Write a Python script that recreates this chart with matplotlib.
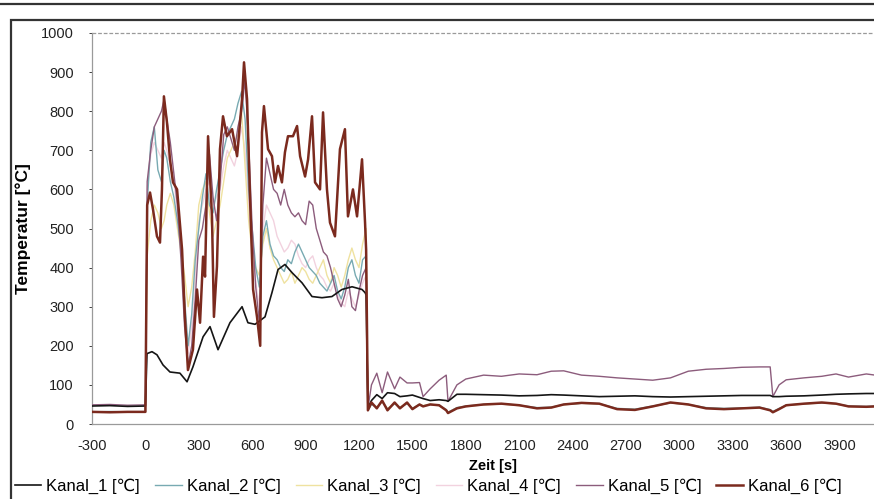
import matplotlib
matplotlib.use("Agg")
import matplotlib.pyplot as plt
from matplotlib.patches import Rectangle
from matplotlib.lines import Line2D

plt.rcParams['font.family'] = ['Liberation Sans', 'DejaVu Sans']
plt.rcParams['axes.unicode_minus'] = False

# ---------------- data ----------------
labels = ["Kanal_1 [℃]", "Kanal_2 [℃]", "Kanal_3 [℃]",
          "Kanal_4 [℃]", "Kanal_5 [℃]", "Kanal_6 [℃]"]

x_ticks = [-300, 0, 300, 600, 900, 1200, 1500, 1800, 2100, 2400, 2700, 3000, 3300, 3600, 3900]
y_ticks = [0, 100, 200, 300, 400, 500, 600, 700, 800, 900, 1000]

t_pre = [-300, -200, -100, 0]

t_fire = [10, 30, 50, 70, 90, 105, 120, 140, 160, 180, 200, 220, 240, 260, 280, 300,
          320, 340, 360, 380, 400, 420, 440, 460, 480, 500, 520, 540, 560, 580, 600,
          620, 640, 660, 680, 700, 720, 740, 760, 780, 800, 820, 840, 860, 880, 900,
          920, 940, 960, 980, 1000, 1020, 1040, 1060, 1080, 1100, 1120, 1140, 1160,
          1180, 1200, 1220, 1240]

t_cool = [1250, 1270, 1300, 1330, 1360, 1400, 1430, 1470, 1500, 1540, 1560, 1600, 1650,
          1690, 1700, 1750, 1800, 1900, 2000, 2100, 2200, 2280, 2350, 2450, 2550, 2650,
          2750, 2850, 2950, 3050, 3150, 3250, 3350, 3450, 3510, 3525, 3560, 3600, 3700,
          3800, 3880, 3950, 4050, 4100]

# Kanal_1 (own fire timeline)
k1_pre = [46, 47, 45, 46]
k1_fire_t = [9, 37, 65, 99, 138, 194, 234, 267, 324, 363, 408, 475, 543, 576, 616, 672,
             711, 745, 784, 824, 880, 936, 992, 1048, 1104, 1161, 1217, 1234, 1240]
k1_fire = [180, 185, 177, 151, 133, 130, 108, 146, 223, 249, 190, 259, 300, 259, 255, 274,
           336, 395, 408, 387, 361, 326, 323, 326, 344, 351, 344, 336, 330]
k1_cool = [40, 60, 75, 65, 80, 78, 70, 72, 74, 68, 65, 60, 62, 60, 58, 76, 76, 75, 74, 72,
           73, 75, 74, 72, 70, 71, 72, 70, 69, 70, 71, 72, 73, 73, 73, 70, 70, 71, 72, 74,
           76, 77, 78, 78]

# Kanal_2
k2_pre = [31, 32, 31, 31]
k2_fire = [560, 720, 760, 650, 620, 700, 680, 620, 580, 520, 450, 320, 200, 280, 420, 500,
           580, 640, 560, 540, 600, 650, 700, 740, 760, 780, 820, 850, 780, 600, 500, 400,
           350, 480, 520, 460, 430, 420, 400, 390, 420, 410, 440, 460, 440, 420, 400, 390,
           380, 360, 350, 340, 360, 380, 340, 320, 350, 400, 420, 380, 360, 420, 430]
k2_cool = [35, 50, 42, 58, 38, 52, 42, 52, 40, 50, 46, 50, 48, 37, 30, 42, 46, 50, 52, 48,
           42, 43, 50, 53, 52, 40, 38, 46, 54, 50, 42, 40, 41, 43, 37, 32, 40, 48, 52, 54,
           52, 46, 45, 46]

# Kanal_3
k3_pre = [30, 31, 30, 30]
k3_fire = [430, 520, 560, 540, 500, 520, 560, 590, 560, 500, 440, 380, 300, 350, 440, 560,
           600, 620, 540, 480, 520, 560, 620, 680, 700, 720, 740, 800, 660, 520, 440, 400,
           380, 460, 500, 450, 420, 400, 380, 360, 370, 390, 360, 380, 400, 390, 370, 360,
           380, 400, 420, 380, 360, 400, 380, 350, 380, 420, 450, 420, 400, 460, 500]
k3_cool = [36, 52, 44, 56, 40, 53, 43, 54, 40, 50, 47, 51, 47, 36, 30, 41, 45, 49, 51, 47,
           41, 42, 49, 53, 51, 39, 37, 45, 54, 49, 41, 39, 40, 42, 36, 31, 39, 47, 51, 54,
           51, 45, 44, 45]

# Kanal_4
k4_pre = [30, 30, 31, 30]
k4_fire = [600, 690, 720, 700, 680, 720, 700, 660, 620, 540, 460, 300, 180, 250, 380, 520,
           560, 600, 620, 560, 580, 600, 660, 700, 680, 660, 700, 760, 700, 560, 440, 360,
           300, 500, 560, 540, 520, 480, 460, 440, 450, 470, 460, 430, 410, 400, 420, 430,
           400, 380, 370, 350, 340, 360, 330, 310, 300, 340, 320, 300, 330, 360, 380]
k4_cool = [34, 54, 41, 57, 37, 54, 41, 53, 39, 49, 45, 49, 47, 35, 29, 40, 44, 49, 51, 47,
           40, 41, 49, 53, 51, 38, 36, 44, 54, 49, 40, 38, 40, 42, 35, 30, 38, 47, 51, 54,
           51, 45, 43, 44]

# Kanal_5
k5_pre = [49, 50, 48, 49]
k5_fire = [620, 700, 760, 780, 800, 830, 780, 720, 640, 560, 420, 250, 150, 200, 320, 470,
           500, 560, 690, 580, 520, 620, 740, 760, 730, 700, 760, 800, 880, 720, 500, 350,
           260, 560, 680, 640, 600, 590, 560, 600, 560, 540, 530, 540, 520, 510, 570, 560,
           500, 470, 440, 430, 400, 360, 320, 300, 330, 370, 300, 290, 340, 380, 400]
k5_cool = [40, 100, 130, 80, 133, 90, 120, 105, 105, 106, 70, 90, 112, 125, 58, 100, 115,
           125, 122, 128, 126, 135, 136, 125, 122, 118, 115, 112, 118, 135, 140, 142, 145,
           146, 146, 70, 100, 113, 118, 122, 128, 120, 128, 125]

# Kanal_6 (own fire timeline)
k6_pre = [31, 30, 31, 31]
k6_fire_t = [10, 26, 43, 65, 82, 93, 104, 121, 138, 155, 178, 206, 222, 239, 267, 290, 307,
             324, 335, 352, 374, 385, 402, 419, 436, 458, 487, 515, 543, 554, 571, 588, 605,
             627, 645, 655, 666, 689, 711, 728, 745, 767, 784, 801, 829, 852, 869, 897,
             914, 936, 953, 981, 998, 1020, 1037, 1065, 1093, 1121, 1138, 1166, 1189, 1217,
             1234, 1240]
k6_fire = [560, 592, 548, 480, 464, 600, 838, 772, 677, 618, 600, 446, 274, 138, 190, 344,
           259, 428, 377, 736, 531, 274, 403, 703, 787, 736, 754, 685, 831, 925, 831, 574,
           344, 274, 200, 746, 813, 703, 685, 618, 660, 618, 695, 736, 736, 762, 685, 633,
           677, 787, 618, 600, 797, 600, 515, 480, 703, 754, 531, 600, 531, 677, 515, 446]
k6_cool = [35, 55, 40, 60, 35, 55, 40, 55, 38, 50, 45, 50, 48, 35, 28, 40, 45, 50, 52, 48,
           40, 42, 50, 54, 52, 38, 36, 45, 55, 50, 40, 38, 40, 42, 35, 30, 38, 48, 52, 55,
           52, 45, 44, 45]

series = [
    (t_pre + k1_fire_t + t_cool, k1_pre + k1_fire + k1_cool),
    (t_pre + t_fire + t_cool, k2_pre + k2_fire + k2_cool),
    (t_pre + t_fire + t_cool, k3_pre + k3_fire + k3_cool),
    (t_pre + t_fire + t_cool, k4_pre + k4_fire + k4_cool),
    (t_pre + t_fire + t_cool, k5_pre + k5_fire + k5_cool),
    (t_pre + k6_fire_t + t_cool, k6_pre + k6_fire + k6_cool),
]

colors = ["#151515", "#78aab2", "#efe2a0", "#f2d2df", "#8c5c7c", "#7b2a1e"]
widths = [1.2, 1.0, 1.0, 1.0, 1.0, 1.8]
zorders = [5, 3, 2, 1, 4, 6]

# ---------------- figure ----------------
W, H = 874, 499
fig = plt.figure(figsize=(W / 100, H / 100), dpi=100)
fig.patch.set_facecolor("white")

left_px, right_px = 92, 893
top_px, bot_px = 33, 424
ax = fig.add_axes([left_px / W, 1 - bot_px / H, (right_px - left_px) / W, (bot_px - top_px) / H])

handles = []
for (t, v), c, lw, z, lab in zip(series, colors, widths, zorders, labels):
    h, = ax.plot(t, v, color=c, lw=lw, zorder=z, label=lab)
    handles.append(h)

ax.set_xlim(-300, 4200)
ax.set_ylim(0, 1000)
ax.set_xticks(x_ticks)
ax.set_yticks(y_ticks)
ax.tick_params(axis="both", labelsize=10.5, colors="#222222", length=2, width=0.6)
ax.tick_params(axis="y", pad=11)
ax.tick_params(axis="x", length=0, pad=11)
for sp in ["right", "top"]:
    ax.spines[sp].set_visible(False)
for sp in ["left", "bottom"]:
    ax.spines[sp].set_color("#9a9a9a")
    ax.spines[sp].set_linewidth(0.9)
ax.axhline(1000, color="#9a9a9a", lw=0.9, ls=(0, (3, 1.5)), clip_on=False)

ax.set_ylabel("Temperatur [°C]", fontsize=12.5, fontweight="bold", labelpad=7)
ax.set_xlabel("Zeit [s]", fontsize=10.5, fontweight="bold", labelpad=4)

fig.legend(handles=handles, labels=labels, loc="center", ncol=6,
           bbox_to_anchor=(0.49, 1 - 486 / H), frameon=False, fontsize=12,
           handlelength=1.6, handletextpad=0.3, columnspacing=0.9)

# outer frames
fig.add_artist(Line2D([0, 1], [1 - 4 / H, 1 - 4 / H], transform=fig.transFigure,
                      color="#333333", lw=1.6))
fig.add_artist(Rectangle((11 / W, -0.05), 1.2, 1 - 20 / H + 0.05, transform=fig.transFigure,
                         fill=False, ec="#333333", lw=1.6))

fig.savefig("out.png", dpi=100, facecolor="white")
